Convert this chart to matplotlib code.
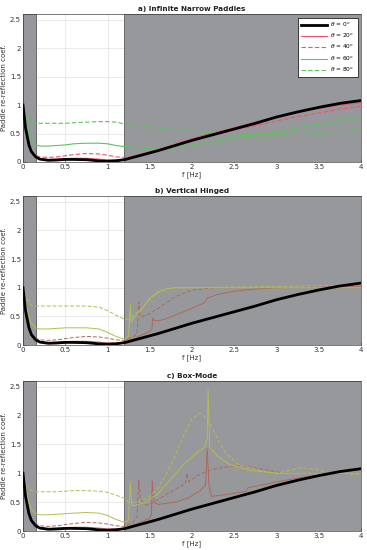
import matplotlib
matplotlib.use("Agg")
import matplotlib.pyplot as plt
import numpy as np

# ---------------- data ----------------
f_low = [0, 0.03, 0.07, 0.1, 0.15, 0.2, 0.3, 0.4, 0.5, 0.6, 0.75, 0.9, 1.0, 1.1, 1.2]
low_0 = [1.0, 0.6, 0.3, 0.18, 0.09, 0.05, 0.03, 0.035, 0.045, 0.045, 0.04, 0.02, 0.01, 0.02, 0.04]
low_20 = [1.0, 0.6, 0.3, 0.18, 0.1, 0.06, 0.045, 0.05, 0.06, 0.065, 0.065, 0.05, 0.04, 0.04, 0.05]
low_40 = [1.0, 0.62, 0.32, 0.2, 0.12, 0.09, 0.08, 0.09, 0.11, 0.13, 0.15, 0.14, 0.12, 0.09, 0.08]
low_a60 = [1.0, 0.75, 0.5, 0.38, 0.3, 0.28, 0.28, 0.29, 0.3, 0.32, 0.33, 0.33, 0.32, 0.29, 0.27]
low_a80 = [1.0, 0.85, 0.74, 0.7, 0.68, 0.68, 0.68, 0.68, 0.68, 0.69, 0.7, 0.71, 0.71, 0.7, 0.67]
low_b60 = [1.0, 0.75, 0.5, 0.38, 0.3, 0.28, 0.28, 0.29, 0.3, 0.3, 0.3, 0.28, 0.22, 0.15, 0.1]
low_b80 = [1.0, 0.85, 0.74, 0.7, 0.68, 0.68, 0.68, 0.68, 0.68, 0.68, 0.68, 0.66, 0.6, 0.52, 0.45]
low_c60 = [1.0, 0.75, 0.5, 0.38, 0.3, 0.28, 0.28, 0.29, 0.3, 0.31, 0.32, 0.31, 0.27, 0.2, 0.15]
low_c80 = [1.0, 0.85, 0.74, 0.7, 0.68, 0.68, 0.68, 0.68, 0.69, 0.7, 0.7, 0.69, 0.67, 0.62, 0.57]

f_hi = [1.3, 1.4, 1.6, 1.8, 2.0, 2.25, 2.5, 2.75, 3.0, 3.25, 3.5, 3.75, 4.0]
hi_0 = [0.08, 0.12, 0.2, 0.29, 0.38, 0.48, 0.58, 0.68, 0.79, 0.88, 0.96, 1.03, 1.08]
hi_a20 = [0.09, 0.13, 0.22, 0.31, 0.41, 0.51, 0.6, 0.7, 0.79, 0.87, 0.94, 1.0, 1.04]
hi_a40 = [0.1, 0.13, 0.2, 0.29, 0.38, 0.47, 0.56, 0.64, 0.72, 0.8, 0.86, 0.93, 0.98]
hi_a60 = [0.26, 0.25, 0.22, 0.25, 0.3, 0.36, 0.42, 0.47, 0.53, 0.6, 0.66, 0.73, 0.79]
hi_a80 = [0.66, 0.64, 0.6, 0.57, 0.54, 0.51, 0.49, 0.48, 0.48, 0.5, 0.52, 0.54, 0.56]

f_b20 = [1.3, 1.4, 1.5, 1.525, 1.535, 1.55, 1.6, 1.7, 1.8, 2.0, 2.15, 2.17, 2.18, 2.3, 2.5, 2.7, 3.0, 3.5, 4.0]
hi_b20 = [0.1, 0.17, 0.24, 0.27, 0.47, 0.43, 0.42, 0.46, 0.52, 0.64, 0.74, 0.8, 0.82, 0.88, 0.94, 0.97, 1.0, 1.01, 1.02]
f_b40 = [1.3, 1.35, 1.37, 1.38, 1.4, 1.5, 1.6, 1.7, 1.8, 2.0, 2.3, 3.0, 4.0]
hi_b40 = [0.14, 0.2, 0.75, 0.55, 0.49, 0.55, 0.64, 0.74, 0.84, 0.96, 1.0, 1.0, 1.0]
f_b60 = [1.25, 1.27, 1.28, 1.3, 1.4, 1.5, 1.6, 1.7, 1.8, 2.0, 3.0, 4.0]
hi_b60 = [0.15, 0.72, 0.4, 0.45, 0.62, 0.82, 0.93, 0.98, 1.0, 1.0, 1.0, 1.0]
f_b80 = [1.25, 1.3, 1.4, 1.5, 1.6, 1.7, 1.8, 2.0, 3.0, 4.0]
hi_b80 = [0.45, 0.5, 0.63, 0.8, 0.92, 0.98, 1.0, 1.0, 1.02, 1.05]

f_c20 = [1.3, 1.4, 1.5, 1.52, 1.53, 1.55, 1.6, 1.8, 1.95, 2.1, 2.16, 2.18, 2.2, 2.23, 2.4, 2.6, 2.64, 2.66, 2.8, 3.0, 3.3, 3.6, 4.0]
hi_c20 = [0.1, 0.16, 0.22, 0.3, 0.87, 0.5, 0.46, 0.5, 0.57, 0.7, 0.8, 1.43, 0.8, 0.6, 0.63, 0.68, 0.69, 0.75, 0.79, 0.85, 0.93, 0.99, 1.0]
f_c40 = [1.3, 1.35, 1.37, 1.39, 1.45, 1.5, 1.6, 1.8, 1.92, 1.94, 1.96, 2.05, 2.2, 2.35, 2.5, 2.65, 2.9, 3.1, 4.0]
hi_c40 = [0.15, 0.25, 0.88, 0.55, 0.45, 0.46, 0.55, 0.72, 0.82, 1.0, 0.85, 0.95, 1.05, 1.1, 1.13, 1.12, 1.05, 1.0, 1.0]
f_c60 = [1.25, 1.27, 1.285, 1.32, 1.45, 1.6, 1.75, 1.9, 2.05, 2.15, 2.18, 2.19, 2.21, 2.3, 2.45, 2.7, 3.0, 4.0]
hi_c60 = [0.2, 0.85, 0.45, 0.44, 0.5, 0.65, 0.9, 1.15, 1.35, 1.45, 1.6, 2.45, 1.45, 1.3, 1.15, 1.05, 1.0, 1.0]
f_c80 = [1.25, 1.35, 1.5, 1.6, 1.7, 1.8, 1.9, 2.0, 2.1, 2.2, 2.3, 2.4, 2.55, 2.8, 3.0, 3.15, 3.3, 3.45, 3.6, 4.0]
hi_c80 = [0.5, 0.5, 0.6, 0.75, 1.0, 1.3, 1.65, 1.95, 2.05, 1.9, 1.6, 1.35, 1.15, 1.05, 1.0, 1.05, 1.1, 1.07, 1.02, 0.98]

titles = ["a) Infinite Narrow Paddles", "b) Vertical Hinged", "c) Box-Mode"]
labels = ["$\\theta$ = 0$^o$", "$\\theta$ = 20$^o$", "$\\theta$ = 40$^o$", "$\\theta$ = 60$^o$", "$\\theta$ = 80$^o$"]
xticks = [0, 0.5, 1, 1.5, 2, 2.5, 3, 3.5, 4]
xticklabels = ["0", "0.5", "1", "1.5", "2", "2.5", "3", "3.5", "4"]
yticks = [0, 0.5, 1, 1.5, 2, 2.5]
yticklabels = ["0", "0.5", "1", "1.5", "2", "2.5"]
shade_spans = [(0, 0.15), (1.2, 4.0)]

panels = [
    [(f_hi, low_20, hi_a20), (f_hi, low_40, hi_a40), (f_hi, low_a60, hi_a60), (f_hi, low_a80, hi_a80)],
    [(f_b20, low_20, hi_b20), (f_b40, low_40, hi_b40), (f_b60, low_b60, hi_b60), (f_b80, low_b80, hi_b80)],
    [(f_c20, low_20, hi_c20), (f_c40, low_40, hi_c40), (f_c60, low_c60, hi_c60), (f_c80, low_c80, hi_c80)],
]

# ---------------- plot ----------------
plt.rcParams['font.family'] = ['DejaVu Sans']
fig = plt.figure(figsize=(3.67, 5.5), dpi=100)
W, H = 367, 550
boxes = [(14, 162), (196, 345), (381, 531)]
left, right = 23, 361

colors_a = {"red": "#ee5470", "green": "#5cc45c"}
colors_bc = {"red": "#b0685a", "green": "#b4bc4e"}

for i, (top, bot) in enumerate(boxes):
    ax = fig.add_axes([left / W, 1 - bot / H, (right - left) / W, (bot - top) / H])
    ax.set_xlim(0, 4)
    ax.set_ylim(0, 2.6)
    ax.grid(True, color="#e2e2e2", lw=0.5, zorder=0)
    ax.set_axisbelow(True)
    for x0, x1 in shade_spans:
        ax.axvspan(x0, x1, facecolor="#97989c", edgecolor="#5a5a5a", lw=0.6, zorder=1)

    cols = colors_a if i == 0 else colors_bc
    lw_c = 0.8 if i == 0 else 0.7
    styles = [(cols["red"], "-"), (cols["red"], (0, (4, 2))), (cols["green"], "-"), (cols["green"], (0, (4, 2)))]

    ax.plot(f_low + f_hi, low_0 + hi_0, color="black", lw=2.0, label=labels[0], zorder=5)
    for (fh, lo, hi), (c, ls), lab in zip(panels[i], styles, labels[1:]):
        ax.plot(f_low + fh, lo + hi, color=c, ls=ls, lw=lw_c, label=lab, zorder=3)

    ax.set_xticks(xticks)
    ax.set_xticklabels(xticklabels)
    ax.set_yticks(yticks)
    ax.set_yticklabels(yticklabels)
    ax.tick_params(direction="in", length=2, width=0.4, labelsize=5, colors="#333333", pad=1.5)
    for s in ax.spines.values():
        s.set_linewidth(0.5)
        s.set_color("#444444")
    ax.set_title(titles[i], fontsize=5.2, fontweight="bold", pad=2, color="#222222")
    ax.set_xlabel("f [Hz]", fontsize=5, labelpad=0.5, color="#333333")
    ax.set_ylabel("Paddle re-reflection coef.", fontsize=5, labelpad=2, color="#333333")

    if i == 0:
        leg = ax.legend(loc="upper right", fontsize=4.2, frameon=True, fancybox=False,
                        edgecolor="black", framealpha=1, handlelength=4.5,
                        borderpad=0.5, labelspacing=0.55, handletextpad=0.6,
                        borderaxespad=0.6)
        leg.get_frame().set_linewidth(0.5)
        leg.set_zorder(10)

fig.savefig("out.png", dpi=100)
